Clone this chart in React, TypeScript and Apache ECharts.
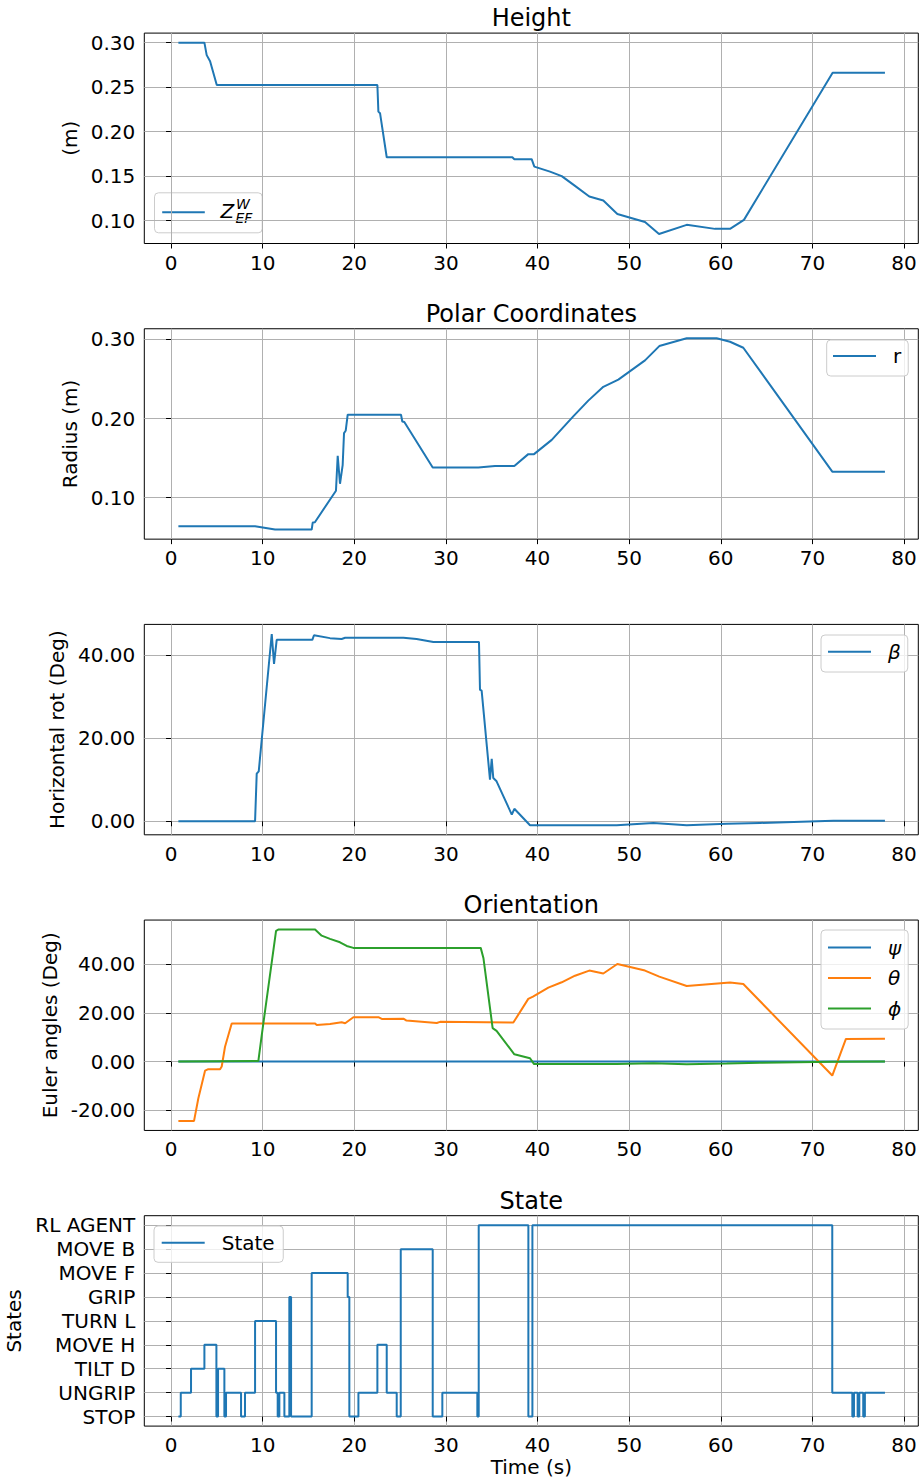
import React, { useEffect, useRef } from "react";
import * as echarts from "echarts";

// ---------- data ----------
const heightTime = [0.8, 3.64, 3.89, 4.26, 4.99, 22.52, 22.63, 22.81, 23.54, 37.25, 37.47, 39.36, 39.65, 41.36, 42.64, 44.09, 45.65, 47.18, 48.71, 51.73, 53.26, 56.28, 59.37, 61.01, 62.53, 72.21, 77.92];
const heightZ = [0.3, 0.3, 0.286, 0.279, 0.2525, 0.2525, 0.2225, 0.2207, 0.1712, 0.1712, 0.169, 0.169, 0.1607, 0.155, 0.15, 0.139, 0.127, 0.1225, 0.1075, 0.0985, 0.085, 0.0952, 0.0907, 0.0907, 0.1008, 0.2663, 0.2663];

const radiusTime = [0.8, 9.17, 11.35, 15.35, 15.46, 15.7, 18.0, 18.19, 18.44, 18.73, 18.88, 19.06, 19.28, 25.1, 25.24, 25.46, 28.56, 33.54, 35.36, 37.47, 38.99, 39.62, 41.55, 43.9, 45.54, 47.18, 48.82, 51.73, 53.29, 56.28, 59.55, 61.01, 62.46, 72.17, 77.92];
const radiusR = [0.064, 0.064, 0.0597, 0.0597, 0.0686, 0.069, 0.1088, 0.153, 0.1176, 0.141, 0.1816, 0.1845, 0.2048, 0.2048, 0.1963, 0.1955, 0.138, 0.138, 0.14, 0.14, 0.155, 0.155, 0.173, 0.2027, 0.2226, 0.24, 0.2492, 0.2734, 0.2915, 0.3013, 0.3013, 0.297, 0.2894, 0.1329, 0.1329];

const betaTime = [0.8, 9.17, 9.35, 9.57, 10.99, 11.24, 11.53, 15.42, 15.6, 17.35, 18.62, 19.0, 25.36, 26.8, 28.63, 33.61, 33.72, 33.9, 34.81, 35.0, 35.17, 35.53, 37.19, 37.47, 39.18, 48.64, 52.64, 56.28, 60.65, 64.28, 72.28, 77.92];
const betaDeg = [0, 0, 11.45, 12.0, 45.0, 37.8, 43.6, 43.6, 44.7, 44.0, 43.8, 44.1, 44.1, 43.8, 43.05, 43.05, 31.6, 31.4, 10.0, 15.0, 10.4, 9.6, 1.6, 3.0, -0.95, -0.95, -0.4, -0.95, -0.6, -0.4, 0.1, 0.1];

const psiTime = [0.8, 77.92];
const psiDeg = [0, 0];

const thetaTime = [0.8, 2.51, 2.98, 3.71, 4.07, 5.35, 5.53, 5.89, 6.62, 15.72, 15.9, 17.35, 18.62, 19.0, 19.9, 22.63, 23.0, 25.36, 25.7, 29.0, 29.36, 37.36, 38.99, 39.5, 41.18, 42.64, 44.09, 45.65, 47.18, 48.71, 51.73, 53.29, 56.28, 61.01, 62.46, 72.17, 73.66, 77.92];
const thetaDeg = [-24.3, -24.3, -15.0, -3.7, -3.1, -3.1, -2.0, 6.1, 15.6, 15.6, 15.0, 15.4, 16.1, 15.7, 18.2, 18.2, 17.5, 17.6, 16.8, 15.8, 16.3, 16.0, 25.7, 26.6, 30.3, 32.5, 35.2, 37.3, 36.1, 40.0, 37.3, 34.8, 31.0, 32.4, 31.8, -5.7, 9.3, 9.4];

const phiTime = [0.8, 9.53, 9.9, 11.46, 11.7, 15.72, 16.44, 17.35, 18.44, 19.17, 19.9, 33.8, 34.1, 35.1, 35.53, 37.47, 39.18, 39.62, 48.64, 52.64, 56.28, 60.65, 64.28, 72.28, 77.92];
const phiDeg = [0, 0.3, 10.9, 53.6, 54.1, 54.1, 51.6, 50.3, 48.9, 47.4, 46.6, 46.6, 42.3, 13.7, 12.6, 3.0, 1.4, -1.0, -1.0, -0.7, -1.1, -0.8, -0.5, -0.1, 0];

const stateNames = ["STOP", "UNGRIP", "TILT D", "MOVE H", "TURN L", "GRIP", "MOVE F", "MOVE B", "RL AGENT"];
const stateTime = [0.8, 1.06, 2.18, 3.64, 4.95, 5.13, 5.82, 6.0, 7.64, 8.07, 9.17, 11.46, 11.64, 11.82, 12.37, 12.91, 13.1, 15.35, 19.28, 19.46, 20.45, 22.52, 23.54, 24.63, 25.07, 28.56, 29.61, 33.43, 33.58, 39.0, 39.44, 72.17, 74.36, 74.54, 74.94, 75.12, 75.55, 75.73, 77.92];
const stateLevel = [0, 1, 2, 3, 0, 2, 0, 1, 0, 1, 4, 1, 0, 1, 0, 5, 0, 6, 5, 0, 1, 3, 1, 0, 7, 0, 1, 0, 8, 0, 8, 1, 0, 1, 0, 1, 0, 1, 1];

const xTicks = [0, 10, 20, 30, 40, 50, 60, 70, 80];
const heightTicks = [0.1, 0.15, 0.2, 0.25, 0.3];
const radiusTicks = [0.1, 0.2, 0.3];
const betaTicks = [0, 20, 40];
const eulerTicks = [-20, 0, 20, 40];
const stateTicks = [0, 1, 2, 3, 4, 5, 6, 7, 8];

const titles = ["Height", "Polar Coordinates", "", "Orientation", "State"];
const yNames = ["(m)", "Radius (m)", "Horizontal rot (Deg)", "Euler angles (Deg)", "States"];

// ---------- layout / style ----------
const C1 = "#1f77b4";
const C2 = "#ff7f0e";
const C3 = "#2ca02c";
const GRID_LEFT = 144.3;
const GRID_WIDTH = 774;
const GRID_TOP0 = 33.1;
const GRID_STEP = 295.65;
const GRID_H = 210.4;
const FONT = "DejaVu Sans";

const zip = (a: number[], b: number[]) => a.map((v, i) => [v, b[i]]);

export default function App() {
  const ref = useRef<HTMLDivElement>(null);
  useEffect(() => {
    document.body.style.margin = "0";
    if (!ref.current) return;
    const chart = echarts.init(ref.current, null, { renderer: "svg" });

    const grids = [0, 1, 2, 3, 4].map((i) => ({
      left: GRID_LEFT,
      top: GRID_TOP0 + i * GRID_STEP,
      width: GRID_WIDTH,
      height: GRID_H,
      containLabel: false,
      outerBoundsMode: "none",
      show: true,
      borderColor: "#000",
      borderWidth: 1,
      backgroundColor: "transparent",
    }));

    const xAxes = [0, 1, 2, 3, 4].map((i) => ({
      type: "value",
      gridIndex: i,
      min: -2.92,
      max: 81.56,
      axisLine: { show: false },
      axisTick: { show: true, customValues: xTicks, length: 5, lineStyle: { color: "#000" } },
      axisLabel: { customValues: xTicks, fontSize: 20, color: "#000", margin: 9, fontFamily: FONT },
      splitLine: { show: true, lineStyle: { color: "#b0b0b0", width: 1 } },
      name: i === 4 ? "Time (s)" : "",
      nameLocation: "middle",
      nameGap: 31,
      nameTextStyle: { fontSize: 20, color: "#000", fontFamily: FONT },
    }));

    const yCfg = [
      { min: 0.07425, max: 0.31075, ticks: heightTicks, fmt: (v: number) => v.toFixed(2), gap: 56 },
      { min: 0.0476, max: 0.3134, ticks: radiusTicks, fmt: (v: number) => v.toFixed(2), gap: 56 },
      { min: -3.25, max: 47.3, ticks: betaTicks, fmt: (v: number) => v.toFixed(2), gap: 69 },
      { min: -28.2, max: 58.0, ticks: eulerTicks, fmt: (v: number) => v.toFixed(2), gap: 77 },
      { min: -0.4, max: 8.4, ticks: stateTicks, fmt: (v: number) => stateNames[Math.round(v)] || "", gap: 120 },
    ];
    const yAxes = yCfg.map((c, i) => ({
      type: "value",
      gridIndex: i,
      min: c.min,
      max: c.max,
      axisLine: { show: false },
      axisTick: { show: true, customValues: c.ticks, length: 5, lineStyle: { color: "#000" } },
      axisLabel: { customValues: c.ticks, fontSize: 20, color: "#000", margin: 9, formatter: c.fmt, fontFamily: FONT },
      splitLine: { show: true, lineStyle: { color: "#b0b0b0", width: 1 } },
      name: yNames[i],
      nameLocation: "middle",
      nameGap: c.gap,
      nameTextStyle: { fontSize: 20, color: "#000", fontFamily: FONT },
    }));

    const line = (name: string, xi: number, data: number[][], color: string, extra: any = {}) => ({
      type: "line",
      name,
      xAxisIndex: xi,
      yAxisIndex: xi,
      data,
      showSymbol: false,
      symbol: "none",
      lineStyle: { color, width: 2 },
      itemStyle: { color },
      ...extra,
    });

    const series = [
      line("Z_EF^W", 0, zip(heightTime, heightZ), C1),
      line("r", 1, zip(radiusTime, radiusR), C1),
      line("β", 2, zip(betaTime, betaDeg), C1),
      line("ψ", 3, zip(psiTime, psiDeg), C1),
      line("θ", 3, zip(thetaTime, thetaDeg), C2),
      line("ϕ", 3, zip(phiTime, phiDeg), C3),
      line("State", 4, zip(stateTime, stateLevel), C1, { step: "end" }),
    ];

    const legendBase = {
      orient: "vertical",
      backgroundColor: "rgba(255,255,255,0.8)",
      borderColor: "#cccccc",
      borderWidth: 1,
      borderRadius: 4,
      icon: "rect",
      itemWidth: 43,
      itemHeight: 2,
      itemGap: 6.5,
      selectedMode: false,
      textStyle: { fontSize: 20, color: "#000", lineHeight: 24, fontFamily: FONT, padding: [0, 0, 0, 12] },
    };
    const greek = { ...legendBase.textStyle, fontStyle: "italic" };
    const legends = [
      { ...legendBase, data: ["r"], left: 826.7, top: 340, padding: [4, 7, 8, 6.3] },
      { ...legendBase, data: ["β"], left: 821, top: 635, padding: [4.7, 7, 8.3, 7], textStyle: greek },
      { ...legendBase, data: ["ψ", "θ", "ϕ"], left: 821, top: 930, padding: [5.5, 7, 8.5, 7], textStyle: greek },
      { ...legendBase, data: ["State"], left: 154, top: 1226, padding: [4.7, 8.6, 7.6, 7.7] },
    ];

    const titleArr = titles
      .map((t, i) => ({ t, i }))
      .filter((o) => o.t)
      .map((o) => ({
        text: o.t,
        left: GRID_LEFT + GRID_WIDTH / 2,
        top: GRID_TOP0 + o.i * GRID_STEP - 27,
        textAlign: "center",
        padding: 0,
        textStyle: { fontSize: 24, fontWeight: "normal", color: "#000", fontFamily: FONT },
      }));

    const graphic = [
      {
        type: "group",
        left: 154,
        top: 192.3,
        children: [
          { type: "rect", shape: { x: 0, y: 0, width: 107.7, height: 40, r: 4 }, style: { fill: "rgba(255,255,255,0.8)", stroke: "#cccccc", lineWidth: 1 } },
          { type: "line", shape: { x1: 7.7, y1: 19.4, x2: 50.3, y2: 19.4 }, style: { stroke: C1, lineWidth: 2 } },
          { type: "text", x: 66, y: 18.5, style: { text: "Z", font: `italic 20px ${FONT}`, fill: "#000", textVerticalAlign: "middle" } },
          { type: "text", x: 81.5, y: 11.5, style: { text: "W", font: `italic 14px ${FONT}`, fill: "#000", textVerticalAlign: "middle" } },
          { type: "text", x: 81, y: 25.5, style: { text: "EF", font: `italic 14px ${FONT}`, fill: "#000", textVerticalAlign: "middle" } },
        ],
      },
    ];

    chart.setOption({
      animation: false,
      textStyle: { fontFamily: FONT },
      title: titleArr,
      grid: grids,
      xAxis: xAxes,
      yAxis: yAxes,
      legend: legends,
      series,
      graphic,
    });
    return () => chart.dispose();
  }, []);
  return <div ref={ref} style={{ width: 923, height: 1478 }} />;
}
